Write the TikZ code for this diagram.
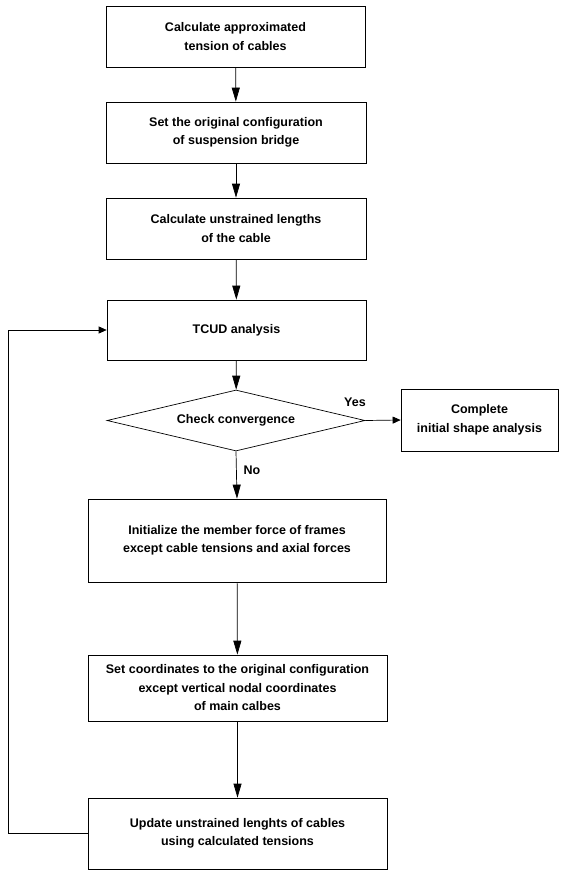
\documentclass[tikz,border=0pt]{standalone}
\usepackage{fontspec}
\setmainfont{Liberation Sans}
\usetikzlibrary{arrows.meta,shapes.geometric}
\begin{document}
\begin{tikzpicture}[x=1pt,y=-1pt,
  every node/.style={font=\fontsize{12.5}{18.5}\selectfont\bfseries, align=center},
  stepbox/.style={draw, line width=0.7pt, rectangle, inner sep=0pt},
  decision/.style={draw, line width=0.7pt, diamond, aspect=4.2, inner sep=0pt,
     minimum width=258pt, minimum height=61pt},
  flow/.style={line width=0.7pt, -{Triangle[length=14pt,width=8pt]}},
  flowsmall/.style={line width=0.7pt, -{Triangle[length=8pt,width=7pt]}},
  lbl/.style={font=\fontsize{12.5}{14}\selectfont\bfseries}
]
\useasboundingbox (0,0) rectangle (560,870);
\node[stepbox, minimum width=259pt, minimum height=61pt] (b1) at (235.5,36.5)
  {Calculate approximated\\tension of cables};
\node[stepbox, minimum width=260pt, minimum height=61pt] (b2) at (236,132.5)
  {Set the original configuration\\of suspension bridge};
\node[stepbox, minimum width=260pt, minimum height=61pt] (b3) at (236,228.5)
  {Calculate unstrained lengths\\of the cable};
\node[stepbox, minimum width=259pt, minimum height=60pt] (tcud) at (236.5,330)
  {TCUD analysis};
\node[decision] (chk) at (236,420.5) {Check convergence};
\node[stepbox, minimum width=157pt, minimum height=62pt] (done) at (479.5,420)
  {Complete\\initial shape analysis};
\node[stepbox, minimum width=298pt, minimum height=83pt] (init) at (237,540.5)
  {Initialize the member force of frames\\except cable tensions and axial forces};
\node[stepbox, minimum width=299pt, minimum height=66pt] (setc) at (237.5,688)
  {Set coordinates to the original configuration\\except vertical nodal coordinates\\of main calbes};
\node[stepbox, minimum width=299pt, minimum height=71pt] (upd) at (237.5,833.5)
  {Update unstrained lenghts of cables\\using calculated tensions};
\node[lbl] (yes) at (355,402) {Yes};
\node[lbl] (no) at (252,470) {No};
\coordinate (lb) at (8,833.5);
\coordinate (lt) at (8,330);

\draw[flow] (b1) -- (b2);
\draw[flow] (b2) -- (b3);
\draw[flow] (b3) -- (tcud);
\draw[flow] (tcud) -- (chk);
\draw[flowsmall] (chk.east) -- (done.west);
\draw[flow] (chk.south) -- (init.north);
\draw[flow] (init) -- (setc);
\draw[flow] (setc) -- (upd);
\draw[flowsmall] (upd.west) -- (lb) -- (lt) -- (tcud.west);
\end{tikzpicture}
\end{document}
